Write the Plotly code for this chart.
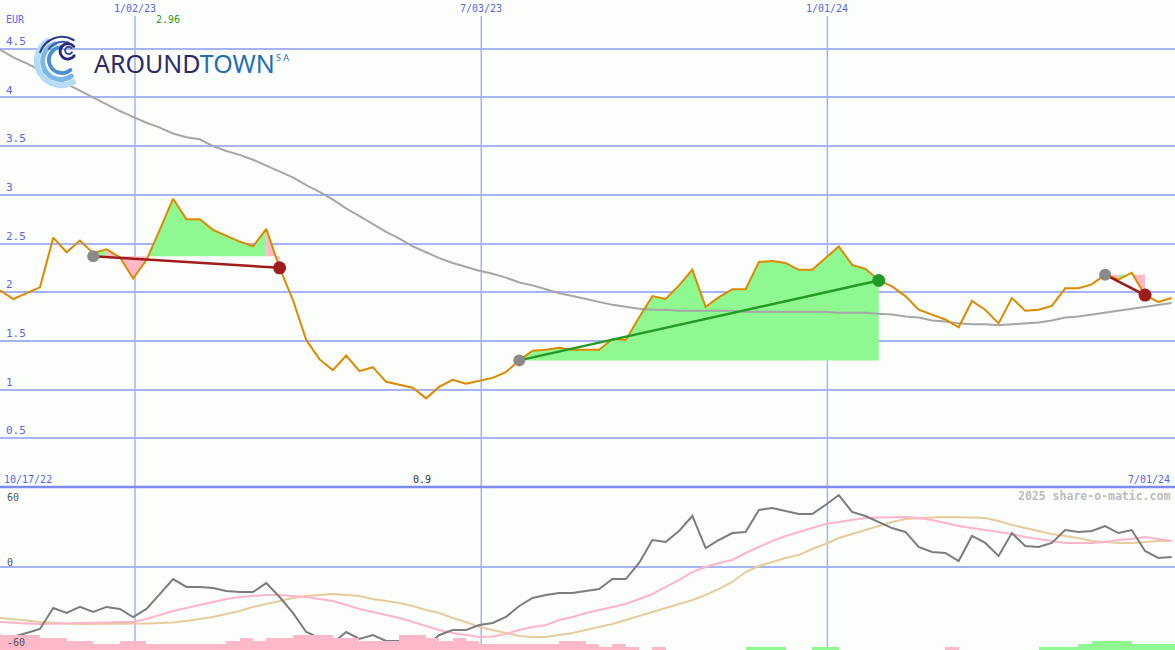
import base64
import math
import pandas as pd
import plotly.graph_objects as go

# ---------------- data ----------------
start_date = "2022-10-23"

price = [2.02, 1.93, 1.99, 2.05, 2.56, 2.41, 2.53, 2.40, 2.44, 2.36,
         2.14, 2.33, 2.64, 2.96, 2.75, 2.75, 2.64, 2.58, 2.52, 2.47,
         2.65, 2.25, 1.92, 1.51, 1.31, 1.20, 1.35, 1.19, 1.23, 1.08,
         1.05, 1.02, 0.91, 1.03, 1.10, 1.06, 1.09, 1.12, 1.18, 1.30,
         1.40, 1.41, 1.43, 1.41, 1.41, 1.41, 1.52, 1.51, 1.74, 1.96,
         1.93, 2.07, 2.23, 1.85, 1.95, 2.03, 2.03, 2.31, 2.32, 2.30,
         2.23, 2.23, 2.35, 2.47, 2.28, 2.24, 2.12, 2.06, 1.96, 1.82,
         1.77, 1.72, 1.64, 1.91, 1.82, 1.68, 1.94, 1.81, 1.82, 1.86,
         2.04, 2.04, 2.08, 2.18, 2.13, 2.20, 1.97, 1.90, 1.94]

ma_long = [4.49, 4.41, 4.35, 4.28, 4.21, 4.14, 4.07, 4.00, 3.93, 3.86,
           3.80, 3.74, 3.69, 3.63, 3.59, 3.57, 3.50, 3.45, 3.41, 3.36,
           3.30, 3.24, 3.18, 3.10, 3.03, 2.95, 2.86, 2.78, 2.70, 2.62,
           2.55, 2.47, 2.41, 2.35, 2.30, 2.26, 2.22, 2.19, 2.15, 2.10,
           2.07, 2.03, 1.99, 1.96, 1.93, 1.90, 1.87, 1.85, 1.83, 1.82,
           1.82, 1.81, 1.81, 1.81, 1.81, 1.81, 1.80, 1.80, 1.80, 1.80,
           1.80, 1.80, 1.80, 1.79, 1.79, 1.79, 1.78, 1.77, 1.75, 1.74,
           1.71, 1.70, 1.68, 1.67, 1.67, 1.66, 1.67, 1.68, 1.69, 1.71,
           1.74, 1.75, 1.77, 1.79, 1.81, 1.83, 1.85, 1.87, 1.89]

osc = [-50.8, -51.6, -48.8, -45.8, -30.2, -33.9, -29.4, -33.2, -29.4, -30.9,
       -36.9, -30.9, -19.8, -8.6, -14.5, -14.5, -15.3, -17.5, -18.3, -18.3,
       -11.6, -22.0, -33.9, -48.1, -52.5, -56.3, -48.1, -53.3, -50.3, -54.8,
       -54.8, -55.5, -58.5, -50.3, -46.6, -46.6, -42.9, -41.4, -36.9, -28.7,
       -22.7, -20.5, -19.0, -19.0, -17.5, -16.0, -8.6, -8.6, 3.4, 20.5,
       19.0, 27.2, 38.4, 14.5, 20.5, 25.7, 26.5, 42.9, 44.3, 42.1,
       39.9, 39.9, 46.6, 54.0, 41.4, 38.4, 33.9, 29.4, 26.5, 15.3,
       11.6, 10.8, 4.8, 23.5, 18.3, 8.6, 25.7, 16.0, 15.3, 18.3,
       27.9, 26.5, 27.2, 30.9, 25.7, 27.9, 12.3, 7.1, 7.8]

osc_fast = [-40.6, -41.4, -41.7, -42.1, -42.1, -41.7, -41.4, -41.4, -41.0, -40.6,
            -40.6, -38.4, -35.4, -32.4, -30.2, -27.9, -25.7, -23.5, -22.0, -21.2,
            -20.5, -20.5, -21.2, -22.0, -23.5, -25.0, -27.9, -30.9, -33.2, -35.4,
            -37.6, -40.6, -43.6, -46.6, -48.8, -50.3, -51.8, -51.4, -49.6, -46.6,
            -44.3, -42.9, -39.1, -36.9, -33.9, -31.7, -29.4, -27.2, -23.5, -19.8,
            -14.5, -9.3, -3.4, 0.4, 3.4, 5.6, 10.8, 15.3, 19.8, 23.5,
            26.5, 29.4, 32.4, 33.9, 35.4, 36.9, 37.3, 37.6, 37.6, 36.9,
            35.4, 33.2, 30.9, 29.4, 27.9, 26.5, 25.0, 22.7, 21.2, 19.8,
            18.3, 18.3, 18.3, 19.0, 20.5, 21.2, 22.7, 21.2, 19.8]

osc_slow = [-37.6, -38.4, -39.5, -40.6, -41.4, -41.7, -42.1, -42.1, -42.1, -42.1,
            -42.1, -41.7, -41.4, -41.0, -39.9, -38.4, -36.9, -34.7, -32.4, -29.4,
            -27.2, -25.0, -22.7, -21.2, -20.5, -19.8, -20.5, -21.2, -23.5, -25.0,
            -26.5, -28.7, -31.7, -33.9, -37.6, -40.6, -44.3, -46.6, -48.8, -51.1,
            -51.8, -51.8, -50.3, -48.8, -46.6, -44.3, -42.1, -39.1, -36.1, -33.2,
            -30.2, -27.2, -24.2, -20.5, -16.0, -10.8, -3.4, 1.1, 4.1, 7.1,
            9.3, 13.8, 17.5, 22.0, 25.0, 27.9, 30.9, 33.9, 36.1, 36.9,
            37.3, 37.6, 37.6, 37.3, 36.9, 34.7, 31.7, 29.4, 27.2, 25.0,
            23.5, 22.0, 19.8, 19.0, 18.3, 18.3, 19.0, 19.8, 19.8]

hist = [-11.2, -11.2, -11.2, -8.9, -8.9, -6.7, -6.7, -4.5, -4.5, -6.7,
        -6.7, -4.5, -4.5, -4.5, -4.5, -4.5, -4.5, -6.7, -8.9, -6.7,
        -8.9, -8.9, -11.2, -11.2, -11.2, -8.9, -8.9, -6.7, -6.7, -6.7,
        -11.2, -11.2, -8.9, -6.7, -8.9, -6.7, -4.5, -4.5, -4.5, -4.5,
        -4.5, -4.5, -6.7, -6.7, -4.5, -2.2, -4.5, -2.2, 0.0, -2.2,
        0.0, 0.0, 0.0, 0.0, 0.0, 0.0, 2.2, 2.2, 2.2, 0.0,
        0.0, 2.2, 2.2, 0.0, 0.0, 0.0, 0.0, 0.0, 0.0, 0.0,
        0.0, -2.2, 0.0, 0.0, 0.0, 0.0, 0.0, 0.0, 2.2, 2.2,
        2.2, 4.5, 6.7, 6.7, 6.7, 4.5, 4.5, 4.5, 4.5]

trade_entry_idx = [7, 39, 83]
trade_exit_idx = [21, 66, 86]
trade_entry_price = [2.37, 1.30, 2.18]
trade_exit_price = [2.25, 2.12, 1.97]

y_ticks = [0.5, 1, 1.5, 2, 2.5, 3, 3.5, 4, 4.5]
y_tick_text = ["0.5", "1", "1.5", "2", "2.5", "3", "3.5", "4", "4.5"]
x_grid_dates = ["2023-01-02", "2023-07-03", "2024-01-01"]
x_grid_labels = ["1/02/23", "7/03/23", "1/01/24"]
first_label, last_label = "10/17/22", "7/01/24"
currency = "EUR"
max_label, min_label = "2.96", "0.9"
credit = "2025 share-o-matic.com"

# ---------------- styling ----------------
BG = "#fcfefc"
GRID = "#a4b4f4"
SEP = "#7c8cf0"
TXT_BLUE = "#5566ee"
MONO = "DejaVu Sans Mono"
PRICE_C = "#dc8a00"
MA_C = "#a6a6a6"
GREEN_FILL = "#90f890"
PINK_FILL = "#ffb8c8"
DOWN_C = "#a01c1c"
UP_C = "#239a23"

W, H = 1175, 650
split = 163 / H  # bottom panel height fraction

dates = pd.date_range(start_date, periods=len(price), freq="7D")
x_range = [pd.Timestamp("2022-10-23"), pd.Timestamp("2024-07-01 18:00")]

fig = go.Figure()

# --- trade fills (between price and entry level) ---
for e, x, lvl in zip(trade_entry_idx, trade_exit_idx, trade_entry_price):
    gx, gy, px_, py_ = [], [], [], []
    for k in range(e, x):
        xs = [dates[k], dates[k], dates[k + 1], dates[k + 1], dates[k], None]
        ys = [lvl, price[k], price[k + 1], lvl, lvl, None]
        if price[k + 1] >= lvl:
            gx += xs; gy += ys
        else:
            px_ += xs; py_ += ys
    for xx, yy, col in ((gx, gy, GREEN_FILL), (px_, py_, PINK_FILL)):
        if xx:
            fig.add_trace(go.Scatter(x=xx, y=yy, mode="none", fill="toself",
                                     fillcolor=col, hoverinfo="skip",
                                     showlegend=False, xaxis="x", yaxis="y"))

# --- moving average and price ---
fig.add_trace(go.Scatter(x=dates, y=ma_long, mode="lines",
                         line=dict(color=MA_C, width=2), showlegend=False,
                         xaxis="x", yaxis="y"))
fig.add_trace(go.Scatter(x=dates, y=price, mode="lines",
                         line=dict(color=PRICE_C, width=2), showlegend=False,
                         xaxis="x", yaxis="y"))

# --- trade lines and dots ---
for e, x, pe, pxp in zip(trade_entry_idx, trade_exit_idx,
                         trade_entry_price, trade_exit_price):
    col = UP_C if pxp >= pe else DOWN_C
    fig.add_trace(go.Scatter(x=[dates[e], dates[x]], y=[pe, pxp], mode="lines",
                             line=dict(color=col, width=2.5), showlegend=False,
                             xaxis="x", yaxis="y"))
    fig.add_trace(go.Scatter(x=[dates[e]], y=[pe], mode="markers",
                             marker=dict(color="#8a8a8a", size=12),
                             showlegend=False, xaxis="x", yaxis="y"))
    fig.add_trace(go.Scatter(x=[dates[x]], y=[pxp], mode="markers",
                             marker=dict(color=col, size=13),
                             showlegend=False, xaxis="x", yaxis="y"))

# --- bottom panel ---
hist_abs = [abs(v) for v in hist]
hist_col = [GREEN_FILL if v > 0 else PINK_FILL for v in hist]
fig.add_trace(go.Bar(x=dates, y=hist_abs, marker=dict(color=hist_col, line=dict(width=0)),
                     width=7 * 24 * 3600 * 1000, offset=0, showlegend=False,
                     xaxis="x2", yaxis="y3"))
fig.add_trace(go.Scatter(x=dates, y=osc_slow, mode="lines",
                         line=dict(color="#e6cc9c", width=2), showlegend=False,
                         xaxis="x2", yaxis="y2"))
fig.add_trace(go.Scatter(x=dates, y=osc_fast, mode="lines",
                         line=dict(color="#ffb4c8", width=2), showlegend=False,
                         xaxis="x2", yaxis="y2"))
fig.add_trace(go.Scatter(x=dates, y=osc, mode="lines",
                         line=dict(color="#7c7c7c", width=2), showlegend=False,
                         xaxis="x2", yaxis="y2"))

# ---------------- layout ----------------
shapes = []
for d in x_grid_dates:
    shapes.append(dict(type="line", xref="x", yref="paper", x0=d, x1=d,
                       y0=0, y1=1 - 16 / H, line=dict(color=GRID, width=1.5),
                       layer="below"))
shapes.append(dict(type="line", xref="paper", yref="paper", x0=0, x1=1,
                   y0=split, y1=split, line=dict(color=SEP, width=2.5),
                   layer="above"))

annotations = []
for d, t in zip(x_grid_dates, x_grid_labels):
    annotations.append(dict(x=d, xref="x", y=1 - 8 / H, yref="paper", text=t,
                            showarrow=False, font=dict(family=MONO, size=10, color=TXT_BLUE),
                            xanchor="center", yanchor="middle"))
annotations += [
    dict(x=4 / W, xref="paper", y=1 - 19 / H, yref="paper", text=currency,
         showarrow=False, font=dict(family=MONO, size=10, color=TXT_BLUE),
         xanchor="left", yanchor="middle"),
    dict(x=dates[price.index(max(price))], xref="x", xshift=-5,
         y=1 - 19 / H, yref="paper", text=max_label, showarrow=False,
         font=dict(family=MONO, size=10, color="#1f9a1f"), xanchor="center", yanchor="middle"),
    dict(x=dates[price.index(min(price))], xref="x", xshift=-4,
         y=1 - 479 / H, yref="paper", text=min_label, showarrow=False,
         font=dict(family=MONO, size=10, color="#333333"), xanchor="center", yanchor="middle"),
    dict(x=2 / W, xref="paper", y=1 - 479 / H, yref="paper", text=first_label,
         showarrow=False, font=dict(family=MONO, size=10, color=TXT_BLUE),
         xanchor="left", yanchor="middle"),
    dict(x=1 - 3 / W, xref="paper", y=1 - 479 / H, yref="paper", text=last_label,
         showarrow=False, font=dict(family=MONO, size=10, color=TXT_BLUE),
         xanchor="right", yanchor="middle"),
    dict(x=1 - 3 / W, xref="paper", y=1 - 496 / H, yref="paper", text="<b>" + credit + "</b>",
         showarrow=False, font=dict(family=MONO, size=11.5, color="#bcbcbc"),
         xanchor="right", yanchor="middle"),
    dict(x=5 / W, xref="paper", y=1 - 497 / H, yref="paper", text="60",
         showarrow=False, font=dict(family=MONO, size=10, color="#555555"),
         xanchor="left", yanchor="middle"),
    dict(x=5 / W, xref="paper", y=1 - 562 / H, yref="paper", text="0",
         showarrow=False, font=dict(family=MONO, size=10, color="#555555"),
         xanchor="left", yanchor="middle"),
    dict(x=5 / W, xref="paper", y=1 - 642 / H, yref="paper", text="-60",
         showarrow=False, font=dict(family=MONO, size=10, color="#555555"),
         xanchor="left", yanchor="middle"),
    # logo text
    dict(x=92 / W, xref="paper", y=1 - 63 / H, yref="paper",
         text="<span style='color:#2b2a6b'>AROUND</span><span style='color:#1f6fb4'>TOWN</span>",
         showarrow=False, font=dict(family="Noto Sans", size=25),
         xanchor="left", yanchor="middle"),
    dict(x=274 / W, xref="paper", y=1 - 58 / H, yref="paper", text="S A",
         showarrow=False, font=dict(family="Noto Sans", size=9, color="#1f6fb4"),
         xanchor="left", yanchor="middle"),
]

# logo swirl (decorative)
def arc(cx, cy, r, a0, a1):
    x0, y0 = cx + r * math.cos(math.radians(a0)), cy + r * math.sin(math.radians(a0))
    x1, y1 = cx + r * math.cos(math.radians(a1)), cy + r * math.sin(math.radians(a1))
    large = 1 if (a1 - a0) % 360 > 180 else 0
    return f"M{x0:.2f},{y0:.2f} A{r},{r} 0 {large} 1 {x1:.2f},{y1:.2f}"

def p(d, c, w):
    return f'<path d="{d}" stroke="{c}" stroke-width="{w}" fill="none" stroke-linecap="round"/>'

svg = ('<svg xmlns="http://www.w3.org/2000/svg" width="60" height="60" viewBox="0 0 60 60">'
       + p(arc(29, 29, 25, 60, 235), "#b4dcf4", 6)
       + p(arc(29, 29, 19, 55, 250), "#7ab8e8", 5)
       + p(arc(30, 28, 13.5, 50, 265), "#4a8fd0", 4)
       + p(arc(30, 28, 24, 200, 300), "#2d3a8c", 2.2)
       + p(arc(31, 27, 18, 215, 290), "#3a5cac", 2)
       + p(arc(36, 19, 8, 35, 320), "#2b2a7b", 3)
       + p(arc(37, 18, 3.8, 30, 320), "#3a4aa0", 2)
       + '</svg>')
svg_src = "data:image/svg+xml;base64," + base64.b64encode(svg.encode()).decode()

fig.update_layout(
    width=W, height=H,
    margin=dict(l=0, r=0, t=0, b=0),
    paper_bgcolor=BG, plot_bgcolor=BG,
    showlegend=False,
    bargap=0,
    xaxis=dict(type="date", range=x_range, domain=[0, 1], anchor="y",
               showgrid=False, showticklabels=False, zeroline=False, showline=False),
    yaxis=dict(domain=[split, 1], range=[0, 5], tickvals=y_ticks, ticktext=y_tick_text,
               ticklabelposition="inside top", ticklabelstandoff=3,
               tickfont=dict(family=MONO, size=11, color=TXT_BLUE),
               showgrid=True, gridcolor=GRID, gridwidth=2, zeroline=False, showline=False,
               ticks=""),
    xaxis2=dict(type="date", range=x_range, domain=[0, 1], anchor="y2", matches="x",
                showgrid=False, showticklabels=False, zeroline=False, showline=False),
    yaxis2=dict(domain=[0, split], range=[-61.5, 60], tickvals=[0], showticklabels=False,
                showgrid=True, gridcolor=GRID, gridwidth=2, zeroline=False, showline=False,
                ticks=""),
    yaxis3=dict(domain=[0, split], range=[0, 121.5], overlaying="y2", anchor="x2",
                showgrid=False, showticklabels=False, zeroline=False, showline=False),
    shapes=shapes,
    annotations=annotations,
    images=[dict(source=svg_src, xref="paper", yref="paper", x=33 / W, y=1 - 33 / H,
                 sizex=58 / W, sizey=58 / H, xanchor="left", yanchor="top",
                 sizing="stretch", layer="above")],
)

fig.write_html("out.html", config={"displayModeBar": False},
               post_script="document.body.style.margin='0';document.body.style.overflow='hidden';")
